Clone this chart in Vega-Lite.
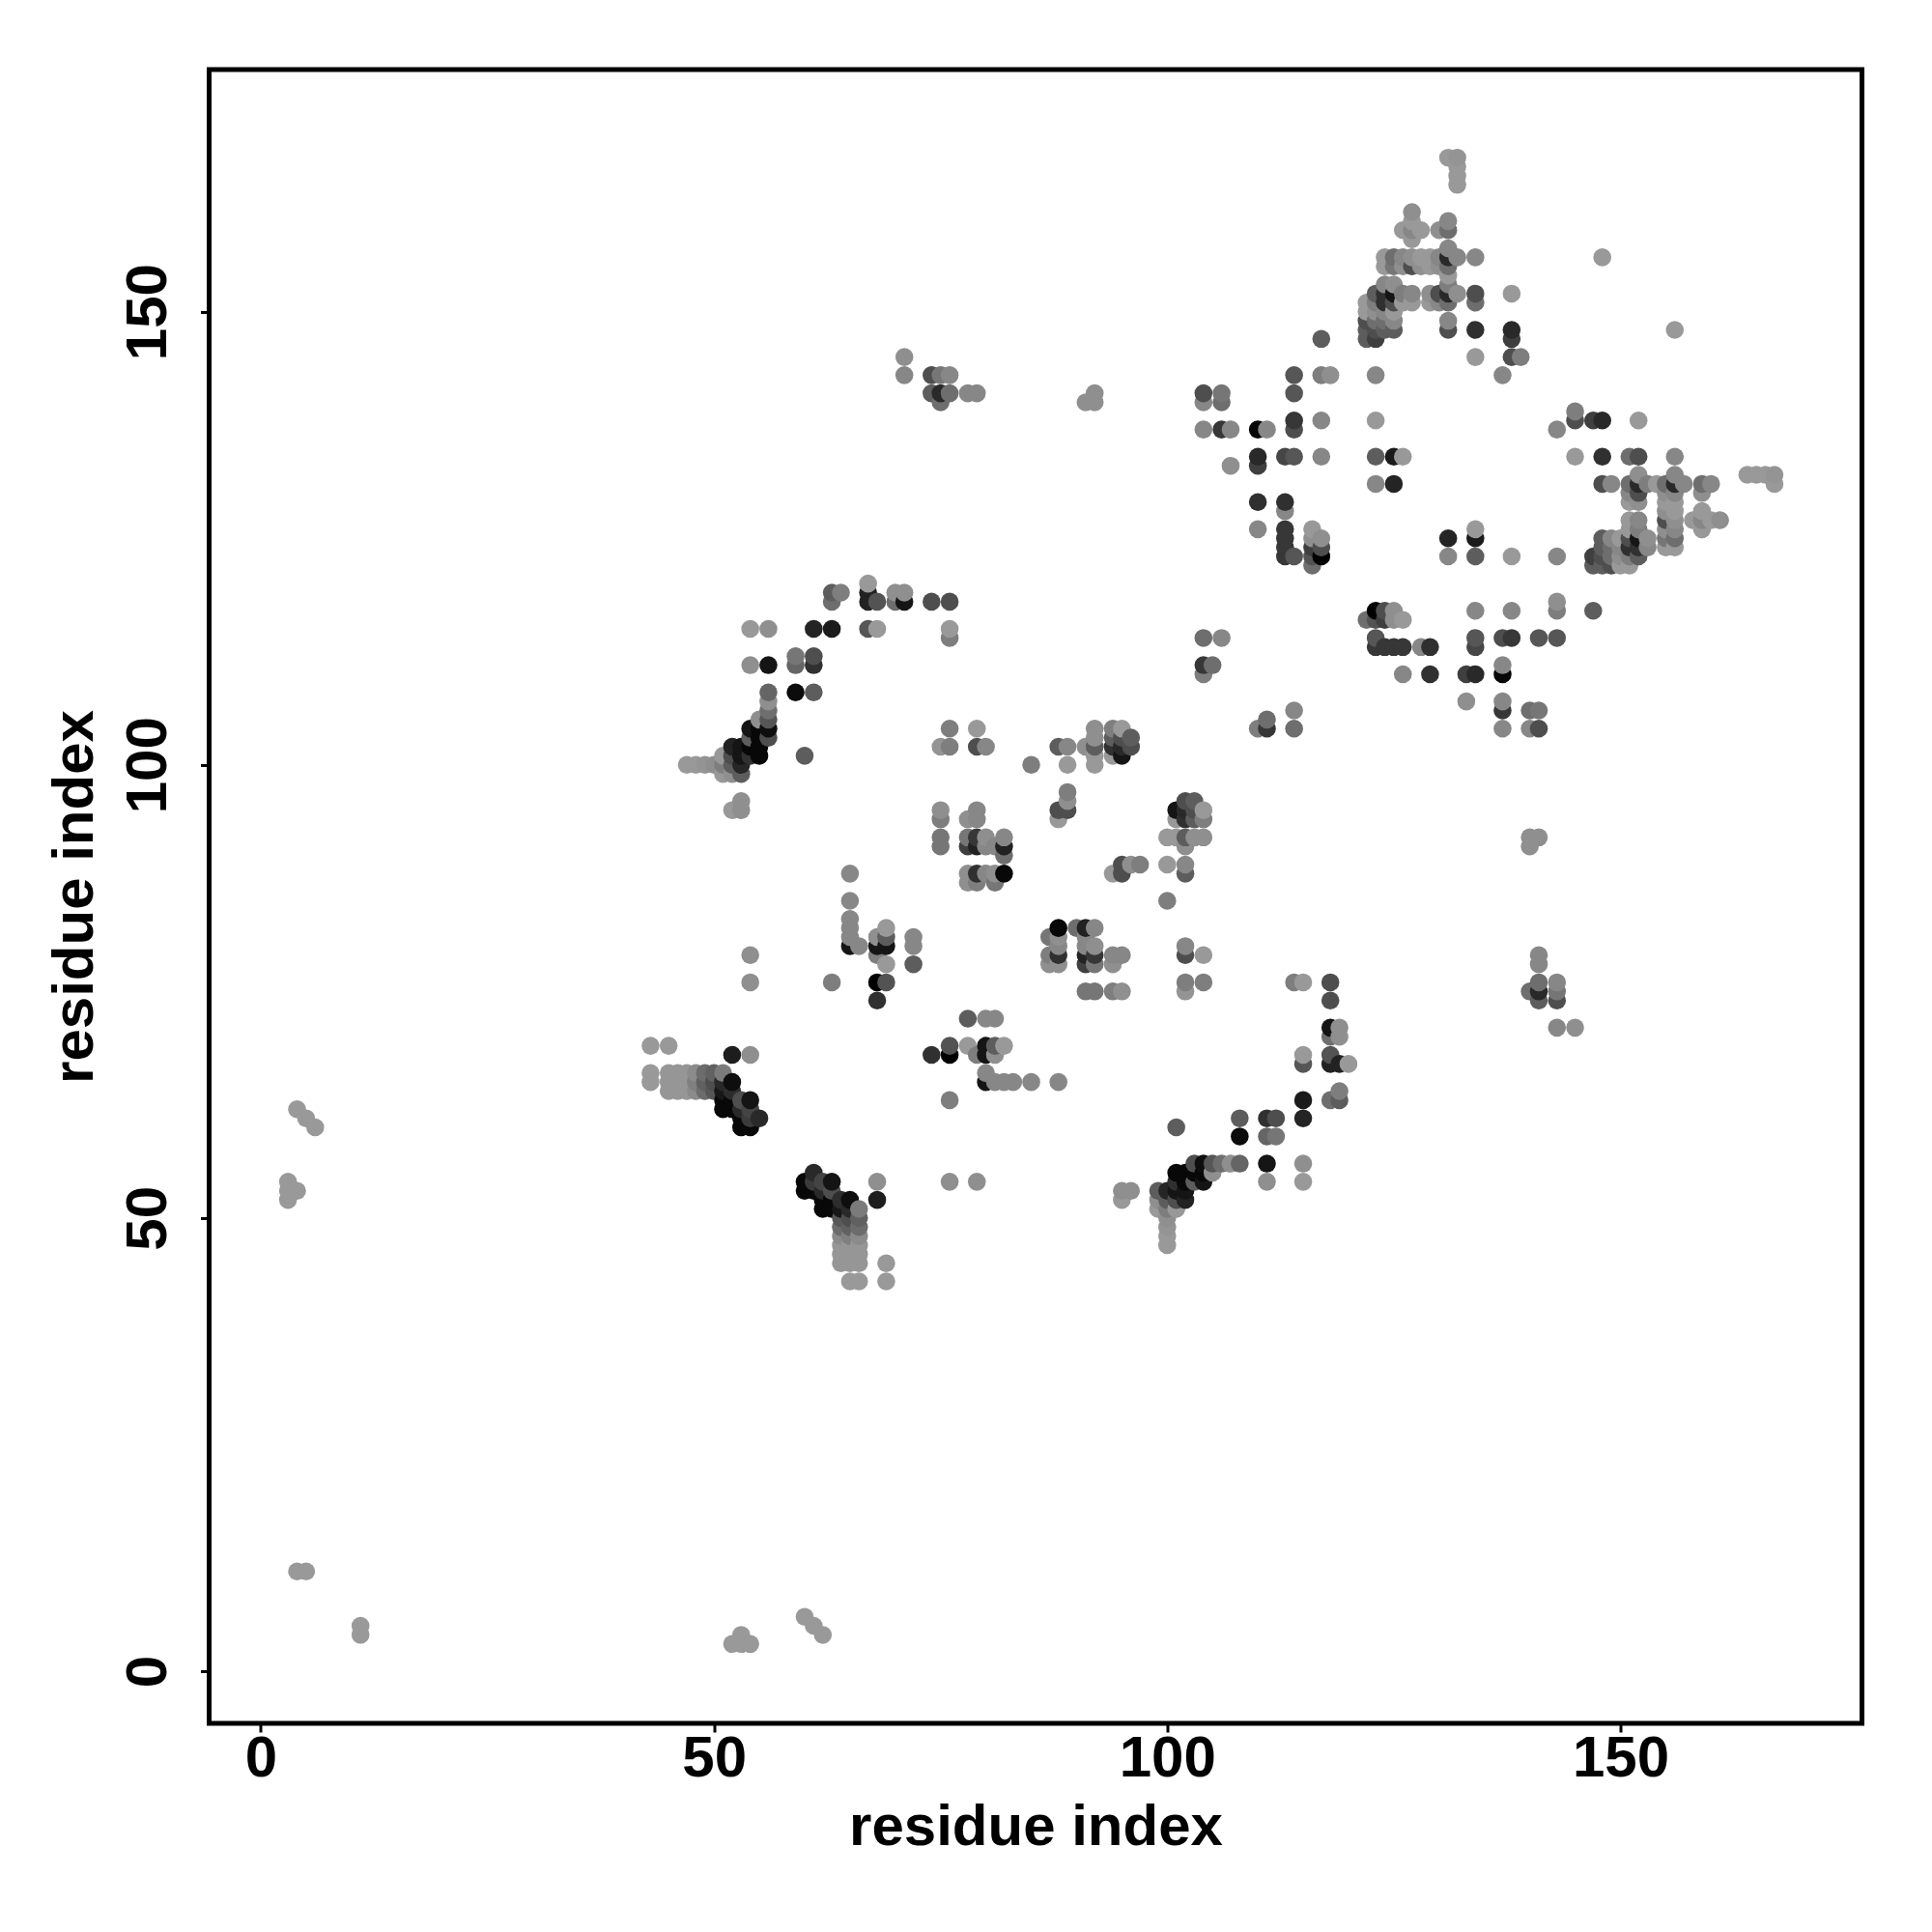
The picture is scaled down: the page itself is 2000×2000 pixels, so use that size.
{"$schema":"https://vega.github.io/schema/vega-lite/v6.json","width":1711,"height":1712,"autosize":{"type":"none"},"padding":{"left":216.5,"top":72,"right":72,"bottom":216},"background":"white",
"view":{"stroke":"black","strokeWidth":5,"fill":"white"},
"data":{"values":[
{"x":3,"y":52,"v":153},{"x":3,"y":53,"v":153},{"x":3,"y":54,"v":153},{"x":4,"y":53,"v":153},{"x":4,"y":62,"v":153},{"x":5,"y":61,"v":153},{"x":6,"y":60,"v":153},{"x":4,"y":11,"v":153},{"x":5,"y":11,"v":153},
{"x":43,"y":65,"v":153},{"x":43,"y":66,"v":153},{"x":43,"y":69,"v":153},{"x":45,"y":69,"v":153},{"x":45,"y":64,"v":150},{"x":45,"y":65,"v":150},{"x":45,"y":66,"v":150},{"x":46,"y":64,"v":150},{"x":46,"y":65,"v":150},{"x":46,"y":66,"v":150},{"x":47,"y":64,"v":150},{"x":47,"y":65,"v":150},{"x":47,"y":66,"v":150},
{"x":48,"y":64,"v":140},{"x":48,"y":65,"v":130},{"x":48,"y":66,"v":140},{"x":49,"y":64,"v":110},{"x":49,"y":65,"v":100},{"x":49,"y":66,"v":110},{"x":50,"y":64,"v":90},{"x":50,"y":65,"v":80},{"x":50,"y":66,"v":100},
{"x":51,"y":62,"v":5},{"x":51,"y":63,"v":5},{"x":51,"y":64,"v":20},{"x":51,"y":65,"v":40},{"x":51,"y":66,"v":125},{"x":52,"y":62,"v":5},{"x":52,"y":63,"v":5},{"x":52,"y":64,"v":45},{"x":52,"y":65,"v":10},{"x":52,"y":68,"v":26},
{"x":53,"y":60,"v":5},{"x":53,"y":61,"v":5},{"x":53,"y":62,"v":40},{"x":53,"y":63,"v":80},{"x":54,"y":60,"v":5},{"x":54,"y":61,"v":60},{"x":54,"y":62,"v":70},{"x":54,"y":63,"v":15},{"x":54,"y":68,"v":144},{"x":54,"y":76,"v":144},{"x":54,"y":79,"v":144},{"x":55,"y":61,"v":40},
{"x":47,"y":100,"v":153},{"x":48,"y":100,"v":153},{"x":49,"y":100,"v":148},{"x":50,"y":100,"v":144},{"x":51,"y":99,"v":153},{"x":51,"y":100,"v":128},{"x":51,"y":101,"v":153},{"x":52,"y":95,"v":153},{"x":52,"y":99,"v":144},{"x":52,"y":100,"v":96},{"x":52,"y":101,"v":80},{"x":52,"y":102,"v":32},
{"x":53,"y":95,"v":144},{"x":53,"y":96,"v":144},{"x":53,"y":99,"v":96},{"x":53,"y":100,"v":37},{"x":53,"y":101,"v":16},{"x":53,"y":102,"v":16},{"x":54,"y":101,"v":48},{"x":54,"y":102,"v":5},{"x":54,"y":103,"v":96},{"x":54,"y":104,"v":16},{"x":54,"y":111,"v":144},{"x":54,"y":115,"v":153},
{"x":55,"y":101,"v":5},{"x":55,"y":102,"v":5},{"x":55,"y":103,"v":5},{"x":55,"y":104,"v":5},{"x":55,"y":105,"v":144},{"x":56,"y":103,"v":80},{"x":56,"y":104,"v":10},{"x":56,"y":105,"v":88},{"x":56,"y":106,"v":112},{"x":56,"y":107,"v":144},{"x":56,"y":108,"v":104},{"x":56,"y":111,"v":16},{"x":56,"y":115,"v":144},
{"x":59,"y":108,"v":8},{"x":59,"y":111,"v":104},{"x":59,"y":112,"v":120},{"x":60,"y":101,"v":96},{"x":61,"y":108,"v":96},{"x":61,"y":111,"v":48},{"x":61,"y":112,"v":80},{"x":61,"y":115,"v":34},{"x":63,"y":76,"v":128},{"x":63,"y":115,"v":24},{"x":63,"y":118,"v":112},{"x":63,"y":119,"v":96},{"x":64,"y":119,"v":128},
{"x":65,"y":80,"v":16},{"x":65,"y":81,"v":136},{"x":65,"y":82,"v":136},{"x":65,"y":83,"v":136},{"x":65,"y":85,"v":136},{"x":65,"y":88,"v":136},{"x":66,"y":80,"v":136},{"x":67,"y":115,"v":88},{"x":67,"y":118,"v":32},{"x":67,"y":119,"v":32},{"x":67,"y":120,"v":153},
{"x":68,"y":74,"v":48},{"x":68,"y":76,"v":0},{"x":68,"y":79,"v":128},{"x":68,"y":80,"v":16},{"x":68,"y":81,"v":144},{"x":68,"y":115,"v":153},{"x":68,"y":118,"v":85},{"x":69,"y":76,"v":85},{"x":69,"y":78,"v":153},{"x":69,"y":80,"v":16},{"x":69,"y":81,"v":96},{"x":69,"y":82,"v":153},
{"x":70,"y":118,"v":112},{"x":70,"y":119,"v":144},{"x":71,"y":118,"v":16},{"x":71,"y":119,"v":144},{"x":71,"y":143,"v":136},{"x":71,"y":145,"v":144},{"x":72,"y":78,"v":96},{"x":72,"y":80,"v":136},{"x":72,"y":81,"v":136},{"x":74,"y":118,"v":80},{"x":74,"y":141,"v":96},{"x":74,"y":143,"v":80},
{"x":75,"y":91,"v":120},{"x":75,"y":92,"v":120},{"x":75,"y":94,"v":128},{"x":75,"y":95,"v":144},{"x":75,"y":102,"v":148},{"x":75,"y":140,"v":112},{"x":75,"y":141,"v":40},{"x":75,"y":143,"v":120},{"x":76,"y":102,"v":128},{"x":76,"y":104,"v":128},{"x":76,"y":114,"v":128},{"x":76,"y":115,"v":153},{"x":76,"y":118,"v":80},{"x":76,"y":141,"v":112},{"x":76,"y":143,"v":136},
{"x":78,"y":87,"v":144},{"x":78,"y":88,"v":144},{"x":78,"y":91,"v":64},{"x":78,"y":92,"v":120},{"x":78,"y":94,"v":144},{"x":78,"y":141,"v":136},{"x":79,"y":87,"v":128},{"x":79,"y":88,"v":48},{"x":79,"y":91,"v":32},{"x":79,"y":92,"v":56},{"x":79,"y":94,"v":136},{"x":79,"y":95,"v":136},{"x":79,"y":102,"v":80},{"x":79,"y":104,"v":153},{"x":79,"y":141,"v":136},
{"x":80,"y":88,"v":136},{"x":80,"y":91,"v":136},{"x":80,"y":92,"v":144},{"x":80,"y":102,"v":136},{"x":81,"y":87,"v":120},{"x":81,"y":88,"v":144},{"x":81,"y":91,"v":136},{"x":82,"y":88,"v":5},{"x":82,"y":90,"v":112},{"x":82,"y":91,"v":32},{"x":82,"y":92,"v":136},{"x":85,"y":100,"v":128},
{"x":88,"y":94,"v":153},{"x":88,"y":95,"v":80},{"x":88,"y":102,"v":96},{"x":89,"y":95,"v":80},{"x":89,"y":96,"v":144},{"x":89,"y":97,"v":128},{"x":89,"y":100,"v":153},{"x":89,"y":102,"v":136},{"x":91,"y":102,"v":144},{"x":91,"y":140,"v":144},{"x":92,"y":100,"v":153},{"x":92,"y":101,"v":153},{"x":92,"y":102,"v":96},{"x":92,"y":103,"v":144},{"x":92,"y":104,"v":144},{"x":92,"y":140,"v":144},{"x":92,"y":141,"v":144},
{"x":94,"y":101,"v":153},{"x":94,"y":102,"v":48},{"x":94,"y":103,"v":96},{"x":94,"y":104,"v":128},{"x":95,"y":101,"v":16},{"x":95,"y":102,"v":40},{"x":95,"y":103,"v":80},{"x":95,"y":104,"v":153},{"x":96,"y":102,"v":80},{"x":96,"y":103,"v":96},
{"x":104,"y":110,"v":128},{"x":104,"y":111,"v":56},{"x":104,"y":114,"v":112},{"x":104,"y":137,"v":136},{"x":104,"y":140,"v":136},{"x":104,"y":141,"v":80},{"x":105,"y":111,"v":112},{"x":106,"y":114,"v":136},{"x":106,"y":137,"v":56},{"x":106,"y":140,"v":112},{"x":106,"y":141,"v":120},{"x":107,"y":133,"v":144},{"x":107,"y":137,"v":136},
{"x":110,"y":126,"v":136},{"x":110,"y":129,"v":48},{"x":110,"y":133,"v":64},{"x":110,"y":134,"v":40},{"x":110,"y":137,"v":5},{"x":111,"y":137,"v":136},{"x":113,"y":123,"v":56},{"x":113,"y":124,"v":56},{"x":113,"y":125,"v":56},{"x":113,"y":126,"v":56},{"x":113,"y":128,"v":136},{"x":113,"y":129,"v":48},{"x":113,"y":134,"v":72},
{"x":114,"y":123,"v":88},{"x":114,"y":134,"v":88},{"x":114,"y":137,"v":80},{"x":114,"y":138,"v":56},{"x":114,"y":141,"v":88},{"x":114,"y":143,"v":88},{"x":116,"y":122,"v":112},{"x":116,"y":123,"v":85},{"x":116,"y":124,"v":64},{"x":116,"y":125,"v":144},{"x":116,"y":126,"v":153},{"x":117,"y":123,"v":0},{"x":117,"y":124,"v":80},{"x":117,"y":125,"v":144},{"x":117,"y":134,"v":136},{"x":117,"y":138,"v":136},{"x":117,"y":143,"v":128},{"x":117,"y":147,"v":96},{"x":118,"y":143,"v":144},
{"x":122,"y":147,"v":96},{"x":122,"y":148,"v":96},{"x":122,"y":149,"v":80},{"x":122,"y":150,"v":153},{"x":122,"y":151,"v":153},{"x":123,"y":147,"v":64},{"x":123,"y":148,"v":80},{"x":123,"y":149,"v":112},{"x":123,"y":150,"v":144},{"x":123,"y":151,"v":128},{"x":123,"y":152,"v":96},{"x":124,"y":148,"v":96},{"x":124,"y":149,"v":112},{"x":124,"y":150,"v":136},{"x":124,"y":151,"v":48},{"x":124,"y":152,"v":48},{"x":124,"y":153,"v":136},{"x":125,"y":148,"v":96},{"x":125,"y":149,"v":136},{"x":125,"y":150,"v":153},{"x":125,"y":151,"v":80},{"x":125,"y":152,"v":16},{"x":125,"y":153,"v":144},{"x":126,"y":151,"v":153},{"x":126,"y":152,"v":128},{"x":127,"y":151,"v":153},{"x":127,"y":152,"v":136},
{"x":123,"y":131,"v":136},{"x":123,"y":134,"v":96},{"x":123,"y":138,"v":153},{"x":123,"y":143,"v":136},{"x":125,"y":131,"v":34},{"x":125,"y":134,"v":24},{"x":126,"y":134,"v":153},
{"x":124,"y":155,"v":153},{"x":125,"y":155,"v":120},{"x":126,"y":155,"v":144},{"x":127,"y":155,"v":80},{"x":128,"y":155,"v":144},{"x":124,"y":156,"v":153},{"x":125,"y":156,"v":112},{"x":126,"y":156,"v":136},{"x":127,"y":156,"v":144},{"x":128,"y":156,"v":153},{"x":126,"y":159,"v":153},{"x":127,"y":158,"v":153},{"x":127,"y":159,"v":136},{"x":127,"y":160,"v":153},{"x":127,"y":161,"v":144},{"x":128,"y":159,"v":153},
{"x":129,"y":151,"v":153},{"x":129,"y":152,"v":144},{"x":129,"y":155,"v":153},{"x":129,"y":156,"v":153},{"x":130,"y":151,"v":136},{"x":130,"y":152,"v":80},{"x":130,"y":155,"v":144},{"x":130,"y":156,"v":136},{"x":130,"y":159,"v":144},
{"x":131,"y":148,"v":80},{"x":131,"y":149,"v":136},{"x":131,"y":151,"v":112},{"x":131,"y":152,"v":40},{"x":131,"y":153,"v":128},{"x":131,"y":154,"v":153},{"x":131,"y":155,"v":112},{"x":131,"y":156,"v":40},{"x":131,"y":157,"v":136},{"x":131,"y":159,"v":112},{"x":131,"y":160,"v":136},{"x":131,"y":167,"v":153},
{"x":132,"y":152,"v":144},{"x":132,"y":156,"v":136},{"x":132,"y":164,"v":153},{"x":132,"y":165,"v":153},{"x":132,"y":166,"v":153},{"x":132,"y":167,"v":148},{"x":134,"y":145,"v":153},{"x":134,"y":148,"v":48},{"x":134,"y":151,"v":112},{"x":134,"y":152,"v":80},{"x":134,"y":156,"v":136},{"x":137,"y":143,"v":136},{"x":138,"y":145,"v":80},{"x":138,"y":147,"v":64},{"x":138,"y":148,"v":40},{"x":138,"y":152,"v":153},{"x":139,"y":145,"v":128},{"x":148,"y":156,"v":153},

{"y":3,"x":52,"v":153},{"y":3,"x":53,"v":153},{"y":3,"x":54,"v":153},{"y":4,"x":53,"v":153},{"y":4,"x":62,"v":153},{"y":5,"x":61,"v":153},{"y":6,"x":60,"v":153},{"y":4,"x":11,"v":153},{"y":5,"x":11,"v":153},
{"y":43,"x":65,"v":153},{"y":43,"x":66,"v":153},{"y":43,"x":69,"v":153},{"y":45,"x":69,"v":153},{"y":45,"x":64,"v":150},{"y":45,"x":65,"v":150},{"y":45,"x":66,"v":150},{"y":46,"x":64,"v":150},{"y":46,"x":65,"v":150},{"y":46,"x":66,"v":150},{"y":47,"x":64,"v":150},{"y":47,"x":65,"v":150},{"y":47,"x":66,"v":150},
{"y":48,"x":64,"v":140},{"y":48,"x":65,"v":130},{"y":48,"x":66,"v":140},{"y":49,"x":64,"v":110},{"y":49,"x":65,"v":100},{"y":49,"x":66,"v":110},{"y":50,"x":64,"v":90},{"y":50,"x":65,"v":80},{"y":50,"x":66,"v":100},
{"y":51,"x":62,"v":5},{"y":51,"x":63,"v":5},{"y":51,"x":64,"v":20},{"y":51,"x":65,"v":40},{"y":51,"x":66,"v":125},{"y":52,"x":62,"v":5},{"y":52,"x":63,"v":5},{"y":52,"x":64,"v":45},{"y":52,"x":65,"v":10},{"y":52,"x":68,"v":26},
{"y":53,"x":60,"v":5},{"y":53,"x":61,"v":5},{"y":53,"x":62,"v":40},{"y":53,"x":63,"v":80},{"y":54,"x":60,"v":5},{"y":54,"x":61,"v":60},{"y":54,"x":62,"v":70},{"y":54,"x":63,"v":15},{"y":54,"x":68,"v":144},{"y":54,"x":76,"v":144},{"y":54,"x":79,"v":144},{"y":55,"x":61,"v":40},
{"y":47,"x":100,"v":153},{"y":48,"x":100,"v":153},{"y":49,"x":100,"v":148},{"y":50,"x":100,"v":144},{"y":51,"x":99,"v":153},{"y":51,"x":100,"v":128},{"y":51,"x":101,"v":153},{"y":52,"x":95,"v":153},{"y":52,"x":99,"v":144},{"y":52,"x":100,"v":96},{"y":52,"x":101,"v":80},{"y":52,"x":102,"v":32},
{"y":53,"x":95,"v":144},{"y":53,"x":96,"v":144},{"y":53,"x":99,"v":96},{"y":53,"x":100,"v":37},{"y":53,"x":101,"v":16},{"y":53,"x":102,"v":16},{"y":54,"x":101,"v":48},{"y":54,"x":102,"v":5},{"y":54,"x":103,"v":96},{"y":54,"x":104,"v":16},{"y":54,"x":111,"v":144},{"y":54,"x":115,"v":153},
{"y":55,"x":101,"v":5},{"y":55,"x":102,"v":5},{"y":55,"x":103,"v":5},{"y":55,"x":104,"v":5},{"y":55,"x":105,"v":144},{"y":56,"x":103,"v":80},{"y":56,"x":104,"v":10},{"y":56,"x":105,"v":88},{"y":56,"x":106,"v":112},{"y":56,"x":107,"v":144},{"y":56,"x":108,"v":104},{"y":56,"x":111,"v":16},{"y":56,"x":115,"v":144},
{"y":59,"x":108,"v":8},{"y":59,"x":111,"v":104},{"y":59,"x":112,"v":120},{"y":60,"x":101,"v":96},{"y":61,"x":108,"v":96},{"y":61,"x":111,"v":48},{"y":61,"x":112,"v":80},{"y":61,"x":115,"v":34},{"y":63,"x":76,"v":128},{"y":63,"x":115,"v":24},{"y":63,"x":118,"v":112},{"y":63,"x":119,"v":96},{"y":64,"x":119,"v":128},
{"y":65,"x":80,"v":16},{"y":65,"x":81,"v":136},{"y":65,"x":82,"v":136},{"y":65,"x":83,"v":136},{"y":65,"x":85,"v":136},{"y":65,"x":88,"v":136},{"y":66,"x":80,"v":136},{"y":67,"x":115,"v":88},{"y":67,"x":118,"v":32},{"y":67,"x":119,"v":32},{"y":67,"x":120,"v":153},
{"y":68,"x":74,"v":48},{"y":68,"x":76,"v":0},{"y":68,"x":79,"v":128},{"y":68,"x":80,"v":16},{"y":68,"x":81,"v":144},{"y":68,"x":115,"v":153},{"y":68,"x":118,"v":85},{"y":69,"x":76,"v":85},{"y":69,"x":78,"v":153},{"y":69,"x":80,"v":16},{"y":69,"x":81,"v":96},{"y":69,"x":82,"v":153},
{"y":70,"x":118,"v":112},{"y":70,"x":119,"v":144},{"y":71,"x":118,"v":16},{"y":71,"x":119,"v":144},{"y":71,"x":143,"v":136},{"y":71,"x":145,"v":144},{"y":72,"x":78,"v":96},{"y":72,"x":80,"v":136},{"y":72,"x":81,"v":136},{"y":74,"x":118,"v":80},{"y":74,"x":141,"v":96},{"y":74,"x":143,"v":80},
{"y":75,"x":91,"v":120},{"y":75,"x":92,"v":120},{"y":75,"x":94,"v":128},{"y":75,"x":95,"v":144},{"y":75,"x":102,"v":148},{"y":75,"x":140,"v":112},{"y":75,"x":141,"v":40},{"y":75,"x":143,"v":120},{"y":76,"x":102,"v":128},{"y":76,"x":104,"v":128},{"y":76,"x":114,"v":128},{"y":76,"x":115,"v":153},{"y":76,"x":118,"v":80},{"y":76,"x":141,"v":112},{"y":76,"x":143,"v":136},
{"y":78,"x":87,"v":144},{"y":78,"x":88,"v":144},{"y":78,"x":91,"v":64},{"y":78,"x":92,"v":120},{"y":78,"x":94,"v":144},{"y":78,"x":141,"v":136},{"y":79,"x":87,"v":128},{"y":79,"x":88,"v":48},{"y":79,"x":91,"v":32},{"y":79,"x":92,"v":56},{"y":79,"x":94,"v":136},{"y":79,"x":95,"v":136},{"y":79,"x":102,"v":80},{"y":79,"x":104,"v":153},{"y":79,"x":141,"v":136},
{"y":80,"x":88,"v":136},{"y":80,"x":91,"v":136},{"y":80,"x":92,"v":144},{"y":80,"x":102,"v":136},{"y":81,"x":87,"v":120},{"y":81,"x":88,"v":144},{"y":81,"x":91,"v":136},{"y":82,"x":88,"v":5},{"y":82,"x":90,"v":112},{"y":82,"x":91,"v":32},{"y":82,"x":92,"v":136},{"y":85,"x":100,"v":128},
{"y":88,"x":94,"v":153},{"y":88,"x":95,"v":80},{"y":88,"x":102,"v":96},{"y":89,"x":95,"v":80},{"y":89,"x":96,"v":144},{"y":89,"x":97,"v":128},{"y":89,"x":100,"v":153},{"y":89,"x":102,"v":136},{"y":91,"x":102,"v":144},{"y":91,"x":140,"v":144},{"y":92,"x":100,"v":153},{"y":92,"x":101,"v":153},{"y":92,"x":102,"v":96},{"y":92,"x":103,"v":144},{"y":92,"x":104,"v":144},{"y":92,"x":140,"v":144},{"y":92,"x":141,"v":144},
{"y":94,"x":101,"v":153},{"y":94,"x":102,"v":48},{"y":94,"x":103,"v":96},{"y":94,"x":104,"v":128},{"y":95,"x":101,"v":16},{"y":95,"x":102,"v":40},{"y":95,"x":103,"v":80},{"y":95,"x":104,"v":153},{"y":96,"x":102,"v":80},{"y":96,"x":103,"v":96},
{"y":104,"x":110,"v":128},{"y":104,"x":111,"v":56},{"y":104,"x":114,"v":112},{"y":104,"x":137,"v":136},{"y":104,"x":140,"v":136},{"y":104,"x":141,"v":80},{"y":105,"x":111,"v":112},{"y":106,"x":114,"v":136},{"y":106,"x":137,"v":56},{"y":106,"x":140,"v":112},{"y":106,"x":141,"v":120},{"y":107,"x":133,"v":144},{"y":107,"x":137,"v":136},
{"y":110,"x":126,"v":136},{"y":110,"x":129,"v":48},{"y":110,"x":133,"v":64},{"y":110,"x":134,"v":40},{"y":110,"x":137,"v":5},{"y":111,"x":137,"v":136},{"y":113,"x":123,"v":56},{"y":113,"x":124,"v":56},{"y":113,"x":125,"v":56},{"y":113,"x":126,"v":56},{"y":113,"x":128,"v":136},{"y":113,"x":129,"v":48},{"y":113,"x":134,"v":72},
{"y":114,"x":123,"v":88},{"y":114,"x":134,"v":88},{"y":114,"x":137,"v":80},{"y":114,"x":138,"v":56},{"y":114,"x":141,"v":88},{"y":114,"x":143,"v":88},{"y":116,"x":122,"v":112},{"y":116,"x":123,"v":85},{"y":116,"x":124,"v":64},{"y":116,"x":125,"v":144},{"y":116,"x":126,"v":153},{"y":117,"x":123,"v":0},{"y":117,"x":124,"v":80},{"y":117,"x":125,"v":144},{"y":117,"x":134,"v":136},{"y":117,"x":138,"v":136},{"y":117,"x":143,"v":128},{"y":117,"x":147,"v":96},{"y":118,"x":143,"v":144},
{"y":122,"x":147,"v":96},{"y":122,"x":148,"v":96},{"y":122,"x":149,"v":80},{"y":122,"x":150,"v":153},{"y":122,"x":151,"v":153},{"y":123,"x":147,"v":64},{"y":123,"x":148,"v":80},{"y":123,"x":149,"v":112},{"y":123,"x":150,"v":144},{"y":123,"x":151,"v":128},{"y":123,"x":152,"v":96},{"y":124,"x":148,"v":96},{"y":124,"x":149,"v":112},{"y":124,"x":150,"v":136},{"y":124,"x":151,"v":48},{"y":124,"x":152,"v":48},{"y":124,"x":153,"v":136},{"y":125,"x":148,"v":96},{"y":125,"x":149,"v":136},{"y":125,"x":150,"v":153},{"y":125,"x":151,"v":80},{"y":125,"x":152,"v":16},{"y":125,"x":153,"v":144},{"y":126,"x":151,"v":153},{"y":126,"x":152,"v":128},{"y":127,"x":151,"v":153},{"y":127,"x":152,"v":136},
{"y":123,"x":131,"v":136},{"y":123,"x":134,"v":96},{"y":123,"x":138,"v":153},{"y":123,"x":143,"v":136},{"y":125,"x":131,"v":34},{"y":125,"x":134,"v":24},{"y":126,"x":134,"v":153},
{"y":124,"x":155,"v":153},{"y":125,"x":155,"v":120},{"y":126,"x":155,"v":144},{"y":127,"x":155,"v":80},{"y":128,"x":155,"v":144},{"y":124,"x":156,"v":153},{"y":125,"x":156,"v":112},{"y":126,"x":156,"v":136},{"y":127,"x":156,"v":144},{"y":128,"x":156,"v":153},{"y":126,"x":159,"v":153},{"y":127,"x":158,"v":153},{"y":127,"x":159,"v":136},{"y":127,"x":160,"v":153},{"y":127,"x":161,"v":144},{"y":128,"x":159,"v":153},
{"y":129,"x":151,"v":153},{"y":129,"x":152,"v":144},{"y":129,"x":155,"v":153},{"y":129,"x":156,"v":153},{"y":130,"x":151,"v":136},{"y":130,"x":152,"v":80},{"y":130,"x":155,"v":144},{"y":130,"x":156,"v":136},{"y":130,"x":159,"v":144},
{"y":131,"x":148,"v":80},{"y":131,"x":149,"v":136},{"y":131,"x":151,"v":112},{"y":131,"x":152,"v":40},{"y":131,"x":153,"v":128},{"y":131,"x":154,"v":153},{"y":131,"x":155,"v":112},{"y":131,"x":156,"v":40},{"y":131,"x":157,"v":136},{"y":131,"x":159,"v":112},{"y":131,"x":160,"v":136},{"y":131,"x":167,"v":153},
{"y":132,"x":152,"v":144},{"y":132,"x":156,"v":136},{"y":132,"x":164,"v":153},{"y":132,"x":165,"v":153},{"y":132,"x":166,"v":153},{"y":132,"x":167,"v":148},{"y":134,"x":145,"v":153},{"y":134,"x":148,"v":48},{"y":134,"x":151,"v":112},{"y":134,"x":152,"v":80},{"y":134,"x":156,"v":136},{"y":137,"x":143,"v":136},{"y":138,"x":145,"v":80},{"y":138,"x":147,"v":64},{"y":138,"x":148,"v":40},{"y":138,"x":152,"v":153},{"y":139,"x":145,"v":128},{"y":148,"x":156,"v":153}
]},
"transform":[{"window":[{"op":"row_number","as":"r"}],"sort":[{"field":"x"},{"field":"y"}]}],
"mark":{"type":"point","filled":true,"shape":"circle","size":345,"opacity":1},
"encoding":{
"x":{"field":"x","type":"quantitative","scale":{"domain":[-5.70,176.65],"nice":false,"zero":false},"axis":{"values":[0,50,100,150],"title":"residue index","format":"d","grid":false,"domain":false,"tickColor":"black","tickWidth":3,"tickSize":9,"labelFont":"Liberation Sans","labelFontWeight":"bold","labelFontSize":60,"labelColor":"black","labelPadding":-2,"labelBaseline":"top","titleFont":"Liberation Sans","titleFontWeight":"bold","titleFontSize":60,"titleColor":"black","titlePadding":12}},
"y":{"field":"y","type":"quantitative","scale":{"domain":[-5.76,176.72],"nice":false,"zero":false},"axis":{"values":[0,50,100,150],"title":"residue index","format":"d","grid":false,"domain":false,"tickColor":"black","tickWidth":3,"tickSize":9,"labelFont":"Liberation Sans","labelFontWeight":"bold","labelFontSize":60,"labelColor":"black","labelAngle":-90,"labelAlign":"center","labelBaseline":"alphabetic","labelPadding":36,"titleFont":"Liberation Sans","titleFontWeight":"bold","titleFontSize":60,"titleColor":"black","titlePadding":15}},
"color":{"field":"v","type":"quantitative","scale":{"domain":[0,153],"range":["#000000","#999999"]},"legend":null},
"order":{"field":"r"}
},
"config":{"view":{"stroke":"black","strokeWidth":5,"fill":"white"}}
}
